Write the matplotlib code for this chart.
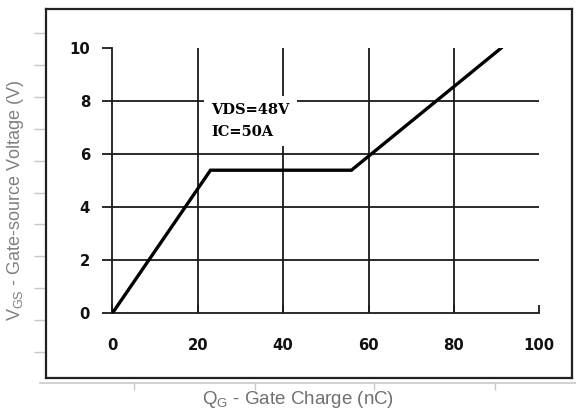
import numpy as np
import matplotlib
matplotlib.use("Agg")
import matplotlib.pyplot as plt

# gate charge curve (Qg in nC, Vgs in V)
qg = [0, 23, 56, 91]
vgs = [0, 5.4, 5.4, 10]

x_ticks = [0, 20, 40, 60, 80, 100]
y_ticks = [0, 2, 4, 6, 8, 10]
note_lines = ["VDS=48V", "IC=50A"]

W, H = 576, 413
fig = plt.figure(figsize=(W / 100, H / 100), dpi=100)

def px_axes(x0, y0, x1, y1, **kw):
    # axes placed by pixel box (top-left origin)
    return fig.add_axes([x0 / W, 1 - y1 / H, (x1 - x0) / W, (y1 - y0) / H], **kw)

# faint grey baseline under the frame
base = px_axes(40, 9, 576, 383)
base.patch.set_alpha(0)
for s in ["left", "top", "right"]:
    base.spines[s].set_visible(False)
base.spines["bottom"].set_color("#c8c8c8")
base.spines["bottom"].set_linewidth(1.2)
base.set_xlim(0, 536)
base.set_xticks([94, 215, 334, 455])
base.set_xticklabels([])
base.set_yticks([])
base.tick_params(axis="x", colors="#c8c8c8", length=5, width=1)

# black frame with faint grey ticks on the left
frame = px_axes(46, 9, 572, 378)
frame.patch.set_alpha(0)
for s in frame.spines.values():
    s.set_color("#222222")
    s.set_linewidth(1.6)
frame.set_xticks([])
frame.set_ylim(0, 369)
frame.set_yticks(np.linspace(26, 345, 11))
frame.set_yticklabels([])
frame.tick_params(axis="y", colors="#c8c8c8", length=9, width=1)

fig.text(298 / W, 1 - 399 / H, "Q$_{\\mathregular{G}}$ - Gate Charge (nC)", ha="center", va="center",
         fontsize=13.5, color="#707070", family="Liberation Sans")
fig.text(16 / W, 1 - 200 / H, "V$_{\\mathregular{GS}}$ - Gate-source Voltage (V)", ha="center", va="center",
         rotation=90, fontsize=13, color="#808080", family="Liberation Sans")

# inner plot
ax = px_axes(112.3, 48.3, 539.3, 313.3)
ax.patch.set_alpha(0)
ax.set_xlim(0, 100)
ax.set_ylim(0, 10)
for s in ["top", "right"]:
    ax.spines[s].set_visible(False)
for s in ["left", "bottom"]:
    ax.spines[s].set_color("#1a1a1a")
    ax.spines[s].set_linewidth(1.3)

for xv in x_ticks[1:-1]:
    ax.axvline(xv, color="#1a1a1a", lw=1.3, zorder=1)
for yv in y_ticks[1:-1]:
    ax.axhline(yv, color="#1a1a1a", lw=1.3, zorder=1)

ax.set_xticks(x_ticks)
ax.set_yticks(y_ticks)
ax.tick_params(axis="x", direction="in", length=6, width=1.3, color="#1a1a1a", pad=18)
ax.tick_params(axis="y", direction="out", length=7, width=1.3, color="#1a1a1a", pad=9)
for lab in ax.get_xticklabels() + ax.get_yticklabels():
    lab.set_fontweight("bold")
    lab.set_fontsize(10.7)
    lab.set_family("DejaVu Sans")
    lab.set_color("#111111")

ax.plot(qg, vgs, color="black", lw=2.4, zorder=3, solid_joinstyle="miter")

ax.text(23.2, 7.95, note_lines[0] + "\n" + note_lines[1], ha="left", va="top",
        fontsize=10.5, fontweight="bold", family="DejaVu Serif", linespacing=1.8,
        zorder=4, bbox=dict(facecolor="white", edgecolor="none", pad=5))

fig.savefig("out.png", dpi=100)
